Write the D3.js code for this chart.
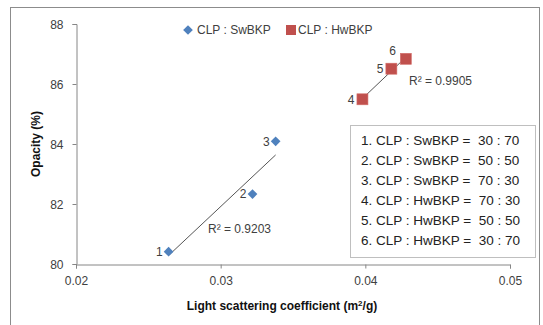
<!DOCTYPE html>
<html>
<head>
<meta charset="utf-8">
<script src="https://cdn.jsdelivr.net/npm/d3@7"></script>
<style>
  body { margin: 0; background: #fff; }
  text { font-family: "Liberation Sans", Arial, sans-serif; }
</style>
</head>
<body>
<div id="chart"></div>
<script>
// values
var swX = [0.0264, 0.0322, 0.0338];
var swY = [80.41, 82.33, 84.09];
var hwX = [0.0398, 0.0418, 0.0428];
var hwY = [85.49, 86.51, 86.84];
var pointLabels = ["1", "2", "3", "4", "5", "6"];
var xTicks = [0.02, 0.03, 0.04, 0.05];
var yTicks = [80, 82, 84, 86, 88];
var seriesNames = ["CLP : SwBKP", "CLP : HwBKP"];
var r2Labels = ["R\u00B2 = 0.9203", "R\u00B2 = 0.9905"];
var boxLines = [
    "1. CLP : SwBKP =  30 : 70",
    "2. CLP : SwBKP =  50 : 50",
    "3. CLP : SwBKP =  70 : 30",
    "4. CLP : HwBKP =  70 : 30",
    "5. CLP : HwBKP =  50 : 50",
    "6. CLP : HwBKP =  30 : 70"
];

var width = 543, height = 325;
var blue = "#4F81BD", red = "#C0504D", axisCol = "#868686", txt = "#404040";

var svg = d3.select("#chart").append("svg")
    .attr("width", width)
    .attr("height", height);

// outer frame (bottom edge runs off the picture)
svg.append("rect")
    .attr("x", 10.5).attr("y", 7.5)
    .attr("width", 529).attr("height", 330)
    .attr("fill", "none")
    .attr("stroke", "#8c8c8c");

var x = d3.scaleLinear().domain([0.02, 0.05]).range([76, 510]);
var y = d3.scaleLinear().domain([80, 88]).range([264, 24]);

// axes
var xAxis = svg.append("g")
    .attr("transform", "translate(0,264.5)")
    .call(d3.axisBottom(x).tickValues(xTicks).tickSize(4).tickPadding(8)
        .tickFormat(d3.format(".2f")));
var yAxis = svg.append("g")
    .attr("transform", "translate(76.5,0)")
    .call(d3.axisLeft(y).tickValues(yTicks).tickSize(4).tickPadding(9));

[xAxis, yAxis].forEach(function(a) {
    a.select(".domain").attr("stroke", axisCol);
    a.selectAll(".tick line").attr("stroke", axisCol);
    a.selectAll(".tick text")
        .attr("fill", txt)
        .style("font-size", "12px")
        .style("font-family", "'Liberation Sans', Arial, sans-serif");
});
yAxis.selectAll(".tick text").attr("dy", "0.35em");

// axis titles
svg.append("text")
    .attr("x", 282).attr("y", 310)
    .attr("text-anchor", "middle")
    .style("font-size", "12px").style("font-weight", "bold")
    .attr("fill", "#111")
    .html("Light scattering coefficient (m<tspan dy='-4' font-size='8'>2</tspan><tspan dy='4'>/g)</tspan>");

svg.append("text")
    .attr("transform", "translate(40,144) rotate(-90)")
    .attr("text-anchor", "middle")
    .style("font-size", "12px").style("font-weight", "bold")
    .attr("fill", "#111")
    .text("Opacity (%)");

// linear trend lines
function fit(xs, ys) {
    var mx = d3.mean(xs), my = d3.mean(ys);
    var sxy = d3.sum(xs, function(v, i) { return (v - mx) * (ys[i] - my); });
    var sxx = d3.sum(xs, function(v) { return (v - mx) * (v - mx); });
    var b = sxy / sxx;
    return function(v) { return my + b * (v - mx); };
}

[[swX, swY], [hwX, hwY]].forEach(function(s) {
    var f = fit(s[0], s[1]);
    var x0 = d3.min(s[0]), x1 = d3.max(s[0]);
    svg.append("line")
        .attr("x1", x(x0)).attr("y1", y(f(x0)))
        .attr("x2", x(x1)).attr("y2", y(f(x1)))
        .attr("stroke", "#555").attr("stroke-width", 1);
});

// markers
var diamond = d3.symbol().type(d3.symbolDiamond2).size(60);
var swData = swX.map(function(v, i) { return {x: v, y: swY[i], label: pointLabels[i]}; });
var hwData = hwX.map(function(v, i) { return {x: v, y: hwY[i], label: pointLabels[i + 3]}; });

svg.selectAll("path.sw")
    .data(swData).enter().append("path")
    .attr("class", "sw")
    .attr("d", diamond)
    .attr("transform", function(d) { return "translate(" + x(d.x) + "," + y(d.y) + ")"; })
    .attr("fill", blue);

svg.selectAll("rect.hw")
    .data(hwData).enter().append("rect")
    .attr("class", "hw")
    .attr("x", function(d) { return x(d.x) - 5.5; })
    .attr("y", function(d) { return y(d.y) - 5.5; })
    .attr("width", 11).attr("height", 11)
    .attr("fill", red)
    .attr("stroke", "#d46e6b").attr("stroke-width", 0.6);

// point labels
svg.selectAll("text.plab")
    .data(swData.concat(hwData)).enter().append("text")
    .attr("class", "plab")
    .attr("x", function(d, i) {
        if (i == 5) return x(d.x) - 10;
        return x(d.x) - (i < 3 ? 6 : 8);
    })
    .attr("y", function(d, i) { return y(d.y) + (i == 5 ? -8 : 0); })
    .attr("dy", "0.35em")
    .attr("text-anchor", "end")
    .style("font-size", "12px")
    .attr("fill", txt)
    .text(function(d) { return d.label; });

// R2 labels
svg.append("text").attr("x", 208).attr("y", 233)
    .style("font-size", "12px").attr("fill", txt)
    .text(r2Labels[0]);
svg.append("text").attr("x", 409).attr("y", 85)
    .style("font-size", "12px").attr("fill", txt)
    .text(r2Labels[1]);

// top legend
svg.append("path")
    .attr("d", diamond)
    .attr("transform", "translate(188,30)")
    .attr("fill", blue);
svg.append("text").attr("x", 197).attr("y", 30).attr("dy", "0.35em")
    .style("font-size", "12px").attr("fill", txt)
    .text(seriesNames[0]);
svg.append("rect")
    .attr("x", 286).attr("y", 25).attr("width", 10).attr("height", 10)
    .attr("fill", red);
svg.append("text").attr("x", 298).attr("y", 30).attr("dy", "0.35em")
    .style("font-size", "12px").attr("fill", txt)
    .text(seriesNames[1]);

// mixing ratio box
svg.append("rect")
    .attr("x", 350.5).attr("y", 125.5)
    .attr("width", 185).attr("height", 132)
    .attr("fill", "#fff")
    .attr("stroke", "#bfbfbf");

svg.selectAll("text.box")
    .data(boxLines).enter().append("text")
    .attr("class", "box")
    .attr("x", 361)
    .attr("y", function(d, i) { return 140 + i * 20; })
    .attr("dy", "0.35em")
    .style("font-size", "13.5px")
    .attr("fill", "#222")
    .style("white-space", "pre")
    .text(function(d) { return d; });
</script>
</body>
</html>
